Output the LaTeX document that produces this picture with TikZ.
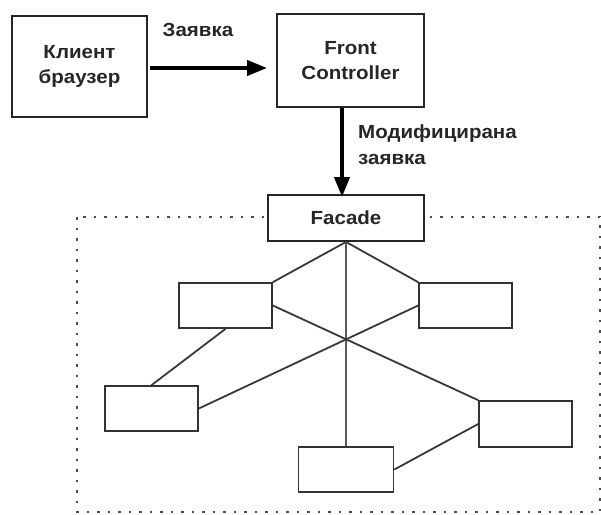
\documentclass[tikz,border=0pt]{standalone}
\usepackage{fontspec}
\setmainfont{Liberation Sans}
\newfontfamily\labelfont[FakeStretch=1.08]{Liberation Sans}
\usetikzlibrary{arrows.meta,calc}

\tikzset{
  bigbox/.style={draw=black!85, line width=1.9pt, inner sep=0pt,
    minimum width=#1, align=center,
    font=\labelfont\fontsize{19}{25}\selectfont\bfseries, text=black!85},
  smallbox/.style={draw=black!80, line width=1.7pt, inner sep=0pt,
    minimum width=93pt, minimum height=45pt},
  link/.style={draw=black!78, line width=1.8pt},
  flow/.style={line width=4pt, draw=black,
    -{Triangle[length=20pt,width=15pt]}},
  lbl/.style={font=\labelfont\fontsize{19}{26}\selectfont\bfseries, text=black!85,
    inner sep=0pt, align=left},
  frame/.style={draw=black!70, line width=2pt,
    dash pattern=on 2.5pt off 8pt}
}

\begin{document}
\begin{tikzpicture}[x=1pt,y=-1pt]
  \useasboundingbox (0,0) rectangle (601,514);

  % dotted boundary of the subsystem behind the facade
  \draw[frame] (77,217) rectangle (600,512);

  % top row
  \node[bigbox=135pt, minimum height=101pt] (client) at (79.5,66.5)
    {Клиент\\браузер};
  \node[bigbox=147pt, minimum height=93pt] (front) at (350.5,60.5)
    {Front\\Controller};

  % facade
  \node[bigbox=156pt, minimum height=46pt, fill=white] (facade) at (346,218) {Facade};

  % subsystem classes
  \node[smallbox] (ul) at (225.5,305.5) {};
  \node[smallbox] (ur) at (465.5,305.5) {};
  \node[smallbox] (lft) at (151.5,408.5) {};
  \node[smallbox, minimum width=95pt] (bot) at (346,469.5) {};
  \node[smallbox, minimum height=46pt] (rgt) at (525.5,424) {};

  % request flow
  \draw[flow] ([xshift=2pt]client.east |- 0,68) -- ([xshift=-9pt]front.west |- 0,68);
  \node[lbl] (req) at (198,30) {Заявка};

  \coordinate (dtop) at ($(front.south)+(-8.5,0)$);
  \draw[flow] (dtop) -- ([yshift=-3pt]dtop |- facade.north);
  \node[lbl, anchor=west] (modreq) at (358,145) {Модифицирана\\заявка};

  % connections inside the subsystem
  \draw[link] (facade.south) -- (ul.north east);
  \draw[link] (facade.south) -- (ur.north west);
  \draw[link, draw=black!65] (facade.south) -- (bot.north);
  \draw[link] (ul.east) -- (rgt.north west);
  \draw[link] (ur.west) -- (lft.east);
  \draw[link] (ul.south) -- (lft.north);
  \draw[link] (rgt.west) -- (bot.east);
\end{tikzpicture}
\end{document}
